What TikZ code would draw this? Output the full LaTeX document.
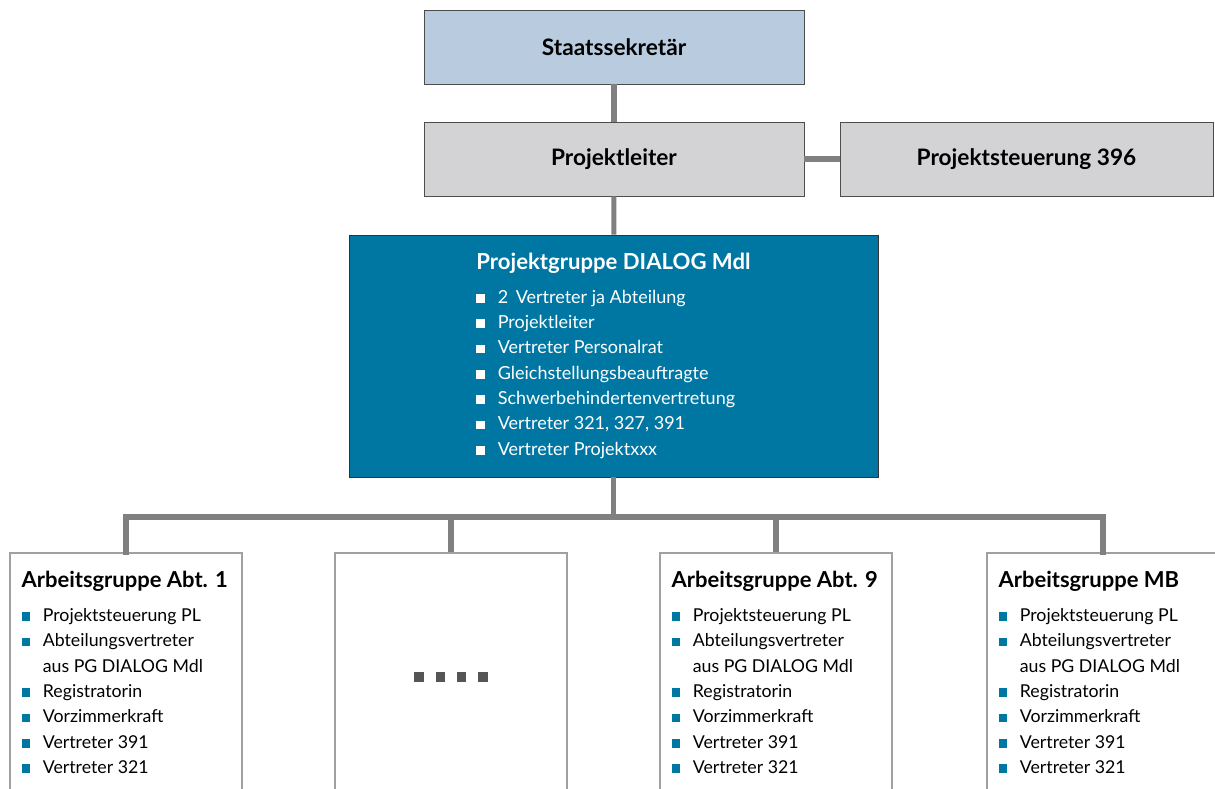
\documentclass[tikz,border=0pt]{standalone}
\usepackage{fontspec}
\setmainfont{Lato}
\definecolor{lineGray}{HTML}{808080}
\definecolor{boxBlue}{HTML}{0077A3}
\definecolor{lightBlue}{HTML}{B9CCDF}
\definecolor{lightGray}{HTML}{D3D3D5}
\definecolor{frameGray}{HTML}{A0A0A0}
\definecolor{dotGray}{HTML}{555555}
\newcommand{\bsq}[1]{\makebox[16pt][l]{\textcolor{#1}{\rule[0.5pt]{6.5pt}{6.5pt}}}}
\tikzset{
  hbox/.style={draw=black!70, line width=0.6pt, minimum width=285pt, minimum height=55.5pt, font=\fontsize{17}{19}\selectfont\bfseries},
  link/.style={lineGray, line width=3.8pt},
  agbox/.style={draw=frameGray, line width=1.1pt, minimum width=174pt, minimum height=185.25pt},
  agtext/.style={anchor=north west, align=left, inner sep=0pt, font=\fontsize{13.3}{19}\selectfont}
}
\begin{document}
\begin{tikzpicture}[x=0.75pt, y=-0.75pt]
\useasboundingbox (0,0) rectangle (1215,789);

% oberste Ebene
\node[hbox, fill=lightBlue] (staats) at (614,47) {Staatssekret\"ar};
\node[hbox, fill=lightGray] (pl) at (614,159) {Projektleiter};
\node[hbox, fill=lightGray, minimum width=279.75pt] (ps) at (1026.5,159) {Projektsteuerung 396};

% Projektgruppe
\node[draw=black!80, line width=0.6pt, fill=boxBlue, text=white, minimum width=396.75pt, minimum height=181.5pt,
      align=left, font=\fontsize{13.5}{19}\selectfont] (pg) at (613.5,356)
  {{\fontsize{16.6}{19}\selectfont\bfseries Projektgruppe DIALOG Mdl}\\[6pt]
   \bsq{white}2\, Vertreter ja Abteilung\\
   \bsq{white}Projektleiter\\
   \bsq{white}Vertreter Personalrat\\
   \bsq{white}Gleichstellungsbeauftragte\\
   \bsq{white}Schwerbehindertenvertretung\\
   \bsq{white}Vertreter 321, 327, 391\\
   \bsq{white}Vertreter Projektxxx};

% Arbeitsgruppen
\node[agbox] (ag1) at (126,676.5) {};
\node[agbox] (ag2) at (451,676.5) {};
\node[agbox] (ag3) at (776,676.5) {};
\node[agbox] (ag4) at (1103,676.5) {};

\node[agtext] (ag1t) at ([xshift=9pt,yshift=-14pt]ag1.north west)
  {{\fontsize{16.5}{19}\selectfont\bfseries Arbeitsgruppe Abt. 1}\\[6.5pt]
   \bsq{boxBlue}Projektsteuerung PL\\
   \bsq{boxBlue}Abteilungsvertreter\\
   \hspace*{16pt}aus PG DIALOG Mdl\\
   \bsq{boxBlue}Registratorin\\
   \bsq{boxBlue}Vorzimmerkraft\\
   \bsq{boxBlue}Vertreter 391\\
   \bsq{boxBlue}Vertreter 321};
\node[text=dotGray] (dots) at (451,677)
  {\rule{7pt}{7pt}\hspace{9pt}\rule{7pt}{7pt}\hspace{9pt}\rule{7pt}{7pt}\hspace{9pt}\rule{7pt}{7pt}};
\node[agtext] (ag3t) at ([xshift=9pt,yshift=-14pt]ag3.north west)
  {{\fontsize{16.5}{19}\selectfont\bfseries Arbeitsgruppe Abt. 9}\\[6.5pt]
   \bsq{boxBlue}Projektsteuerung PL\\
   \bsq{boxBlue}Abteilungsvertreter\\
   \hspace*{16pt}aus PG DIALOG Mdl\\
   \bsq{boxBlue}Registratorin\\
   \bsq{boxBlue}Vorzimmerkraft\\
   \bsq{boxBlue}Vertreter 391\\
   \bsq{boxBlue}Vertreter 321};
\node[agtext] (ag4t) at ([xshift=9pt,yshift=-14pt]ag4.north west)
  {{\fontsize{16.5}{19}\selectfont\bfseries Arbeitsgruppe MB}\\[6.5pt]
   \bsq{boxBlue}Projektsteuerung PL\\
   \bsq{boxBlue}Abteilungsvertreter\\
   \hspace*{16pt}aus PG DIALOG Mdl\\
   \bsq{boxBlue}Registratorin\\
   \bsq{boxBlue}Vorzimmerkraft\\
   \bsq{boxBlue}Vertreter 391\\
   \bsq{boxBlue}Vertreter 321};

% Verbindungen
\draw[link] (staats) -- (pl);
\draw[link] (pl) -- (ps);
\draw[link] (pl) -- (pg);
\coordinate (bus) at (613.5,517);
\draw[link] (pg) -- (bus);
\draw[link, line cap=rect] (ag1.north) |- (bus) -| (ag4.north);
\draw[link] (ag2.north) -- (ag2.north |- bus);
\draw[link] (ag3.north) -- (ag3.north |- bus);

\end{tikzpicture}
\end{document}
